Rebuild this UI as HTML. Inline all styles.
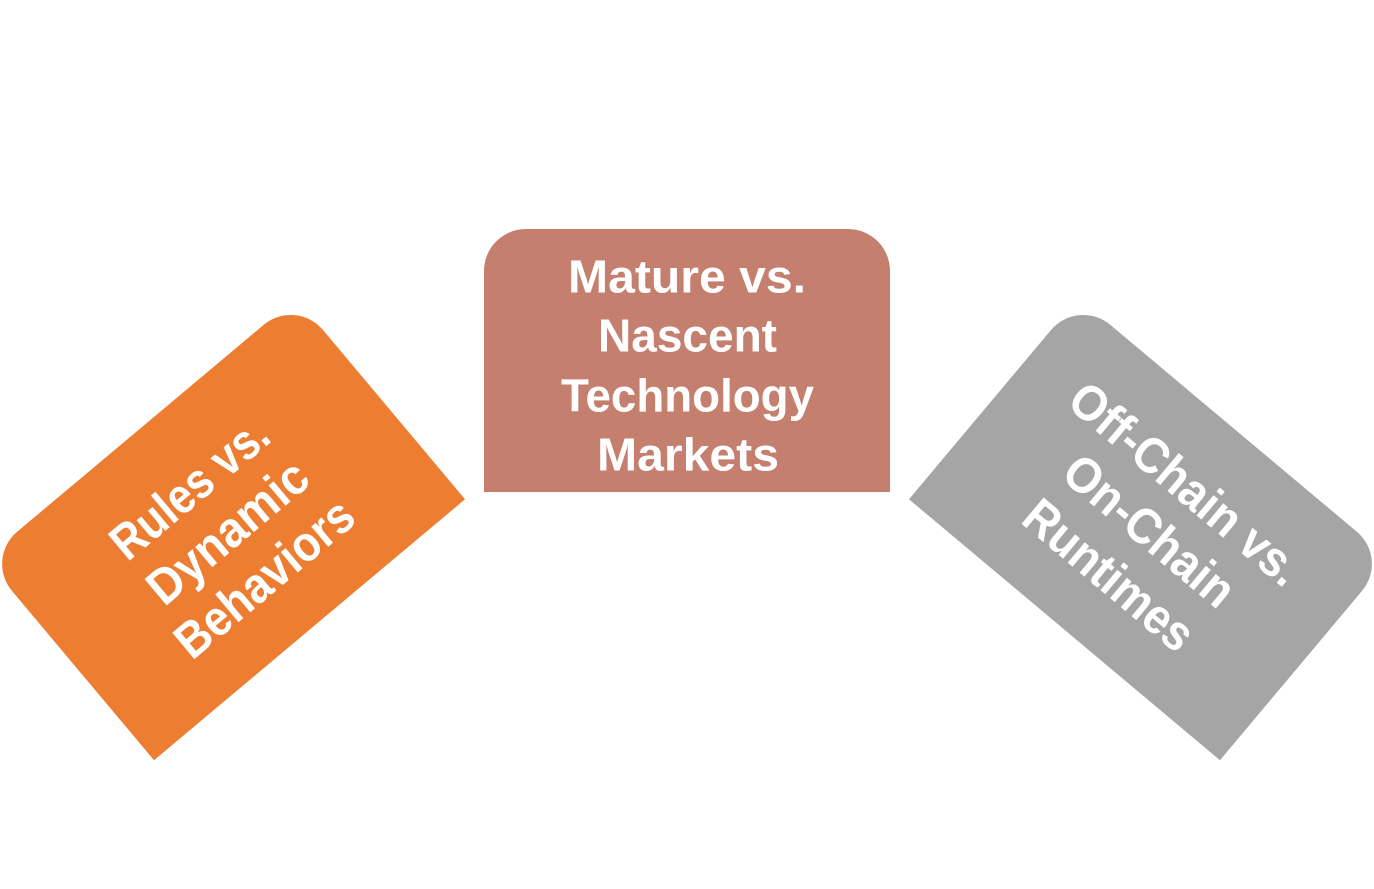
<!DOCTYPE html>
<html lang="en">
<head>
<meta charset="utf-8">
<title>Diagram</title>
<style>
html,body{margin:0;padding:0;background:#fff;width:1374px;height:889px;overflow:hidden}
svg{display:block}
text{font-family:"Liberation Sans",sans-serif;font-weight:700;font-size:46px;fill:#fff}
.s{font-size:50px}
</style>
</head>
<body>
<svg width="1374" height="889" viewBox="0 0 1374 889" xmlns="http://www.w3.org/2000/svg">
<rect width="1374" height="889" fill="#fff"/>

<g transform="translate(225 529) rotate(-40)">
<path d="M-203 131.5V-89.5A42 42 0 0 1 -161 -131.5H161A42 42 0 0 1 203 -89.5V131.5Z" fill="#ED7D31"/>
<text class="s" x="-96" y="-37" textLength="190" lengthAdjust="spacingAndGlyphs">Rules vs.</text>
<text class="s" x="-97" y="21" textLength="194" lengthAdjust="spacingAndGlyphs">Dynamic</text>
<text class="s" x="-110" y="80" textLength="217" lengthAdjust="spacingAndGlyphs">Behaviors</text>
</g>

<g transform="translate(687 360.5)">
<path d="M-203 131.5V-89.5A42 42 0 0 1 -161 -131.5H161A42 42 0 0 1 203 -89.5V131.5Z" fill="#C47F6E"/>
<text x="-119" y="-68" textLength="238" lengthAdjust="spacingAndGlyphs">Mature vs.</text>
<text x="-89" y="-9" textLength="179" lengthAdjust="spacingAndGlyphs">Nascent</text>
<text x="-126" y="51" textLength="253" lengthAdjust="spacingAndGlyphs">Technology</text>
<text x="-90" y="110" textLength="182" lengthAdjust="spacingAndGlyphs">Markets</text>
</g>

<g transform="translate(1149 529) rotate(40)">
<path d="M-203 131.5V-89.5A42 42 0 0 1 -161 -131.5H161A42 42 0 0 1 203 -89.5V131.5Z" fill="#A5A5A5"/>
<text class="s" x="-144" y="-41" textLength="286" lengthAdjust="spacingAndGlyphs">Off-Chain vs.</text>
<text class="s" x="-102" y="18" textLength="207" lengthAdjust="spacingAndGlyphs">On-Chain</text>
<text class="s" x="-104" y="78" textLength="206" lengthAdjust="spacingAndGlyphs">Runtimes</text>
</g>
</svg>
</body>
</html>
